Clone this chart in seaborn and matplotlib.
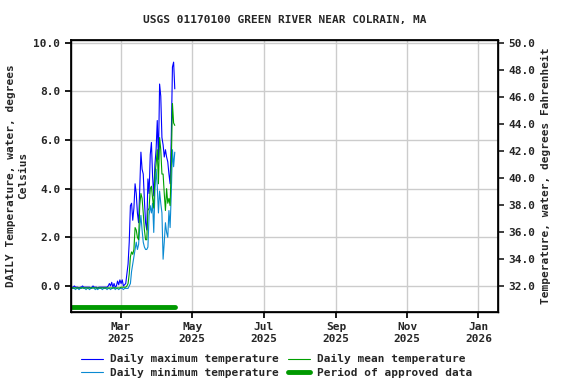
import numpy as np
import pandas as pd
import seaborn as sns
import matplotlib.pyplot as plt
import matplotlib.ticker as ticker

# daily values, Jan 18 2025 - Apr 16 2025 (deg C)
dates = pd.date_range("2025-01-18", "2025-04-16", freq="D")

winter_max = [-0.05, -0.05, 0.0, -0.05, -0.05, -0.05, -0.1, -0.05, -0.05, 0.0, -0.05, -0.05, -0.05, -0.05,
              -0.05, -0.05, -0.1, -0.05, 0.0, -0.05, -0.05, -0.05, -0.1, -0.05, -0.05, -0.05, -0.05, -0.05,
              -0.05, -0.05, -0.05, 0.0, 0.1, 0.0, 0.15, -0.05, 0.1, -0.05, 0.0, 0.2, 0.05, 0.25]
spring_max = [0.1, 0.25, 0.0, 0.05, 0.1, 0.5, 0.9, 1.8, 3.3, 3.4, 2.7, 3.2, 4.2, 3.8, 3.0, 2.6,
              4.0, 5.5, 4.8, 4.6, 3.5, 2.6, 2.3, 4.4, 3.8, 5.4, 5.9, 4.5, 3.7, 5.0, 5.6, 6.8,
              5.2, 8.3, 7.8, 6.1, 5.8, 5.3, 5.6, 5.3, 5.1, 4.6, 4.2, 6.1, 9.0, 9.2, 8.1]

winter_min = [-0.1, -0.1, -0.1, -0.15, -0.1, -0.1, -0.15, -0.1, -0.1, -0.05, -0.1, -0.1, -0.15, -0.1,
              -0.1, -0.15, -0.1, -0.1, -0.05, -0.1, -0.15, -0.1, -0.15, -0.1, -0.1, -0.1, -0.15, -0.1,
              -0.1, -0.1, -0.15, -0.1, -0.1, -0.15, -0.1, -0.1, -0.05, -0.15, -0.1, -0.1, -0.15, -0.1]
spring_min = [-0.1, -0.1, -0.15, -0.1, -0.1, -0.1, -0.1, 0.0, 0.1, 0.6, 0.9, 1.2, 1.5, 1.8, 1.5, 1.7,
              2.4, 2.9, 2.3, 1.8, 1.6, 1.5, 1.5, 1.6, 2.9, 3.3, 3.0, 3.4, 2.2, 3.9, 4.8, 4.1,
              3.0, 3.9, 3.4, 3.0, 1.1, 1.8, 2.6, 2.2, 2.0, 3.1, 2.4, 3.8, 5.6, 4.9, 5.5]

winter_mean = [-0.08] * 42
spring_mean = [-0.05, -0.05, -0.05, -0.05, -0.05, 0.0, 0.1, 0.5, 1.2, 1.4, 1.3, 1.5, 2.4, 2.3, 2.0, 1.9,
               3.3, 3.8, 3.6, 3.0, 2.3, 1.9, 1.9, 3.1, 3.2, 4.0, 4.1, 3.6, 3.2, 4.6, 5.0, 5.6,
               4.2, 6.1, 5.6, 4.6, 4.6, 3.8, 3.1, 4.0, 3.4, 3.6, 3.3, 5.0, 7.5, 6.7, 6.6]

temp_max = winter_max + spring_max
temp_min = winter_min + spring_min
temp_mean = winter_mean + spring_mean

approved_start, approved_end = "2025-01-18", "2025-04-16"

df = pd.DataFrame({"date": dates, "max": temp_max, "min": temp_min, "mean": temp_mean})

sns.set_theme(style="ticks")
plt.rcParams["font.family"] = ["DejaVu Sans Mono"]
plt.rcParams["font.weight"] = "bold"

fig = plt.figure(figsize=(5.76, 3.84), dpi=100)
ax = fig.add_axes([0.123, 0.1875, 0.742, 0.709])

sns.lineplot(data=df, x="date", y="max", ax=ax, color="#0000ff", lw=0.8, label="Daily maximum temperature")
sns.lineplot(data=df, x="date", y="min", ax=ax, color="#0a8ad2", lw=0.8, label="Daily minimum temperature")
sns.lineplot(data=df, x="date", y="mean", ax=ax, color="#00a000", lw=0.8, label="Daily mean temperature")
appr = pd.DataFrame({"date": pd.to_datetime([approved_start, approved_end]), "y": [-0.85, -0.85]})
sns.lineplot(data=appr, x="date", y="y", ax=ax, color="#009900", lw=3.5, label="Period of approved data")

ax.set_xlim(pd.Timestamp("2025-01-17"), pd.Timestamp("2026-01-18"))
ax.set_ylim(-1.07, 10.12)
ax.set_yticks(np.arange(0, 10.1, 2))
ax.yaxis.set_major_formatter(ticker.FormatStrFormatter("%.1f"))
ticks = pd.to_datetime(["2025-03-01", "2025-05-01", "2025-07-01", "2025-09-01", "2025-11-01", "2026-01-01"])
ax.set_xticks(ticks)
ax.set_xticklabels([t.strftime("%b\n%Y") for t in ticks])
ax.grid(True, color="#cccccc", lw=1)
ax.tick_params(labelsize=8, length=4, color="black")
ax.set_xlabel("")
ax.set_ylabel("DAILY Temperature, water, degrees\nCelsius", fontsize=8, fontweight="bold")
for s in ax.spines.values():
    s.set_color("black")
    s.set_linewidth(1)

ax2 = ax.twinx()
lo, hi = ax.get_ylim()
ax2.set_ylim(lo * 1.8 + 32, hi * 1.8 + 32)
ax2.set_yticks(np.arange(32, 50.1, 2))
ax2.yaxis.set_major_formatter(ticker.FormatStrFormatter("%.1f"))
ax2.tick_params(labelsize=8, length=4)
ax2.set_ylabel("Temperature, water, degrees Fahrenheit", fontsize=8, fontweight="bold")
for s in ax2.spines.values():
    s.set_color("black")

ax.set_title("USGS 01170100 GREEN RIVER NEAR COLRAIN, MA", fontsize=8, fontweight="bold", pad=12)

h, l = ax.get_legend_handles_labels()
ax.get_legend().remove()
fig.legend(h, l, ncol=2, loc="lower center",
           bbox_to_anchor=(0.48, -0.01), frameon=False, fontsize=8, handlelength=2.0,
           columnspacing=0.8, handletextpad=0.6, labelspacing=0.3)

fig.savefig("out.png", dpi=100)
